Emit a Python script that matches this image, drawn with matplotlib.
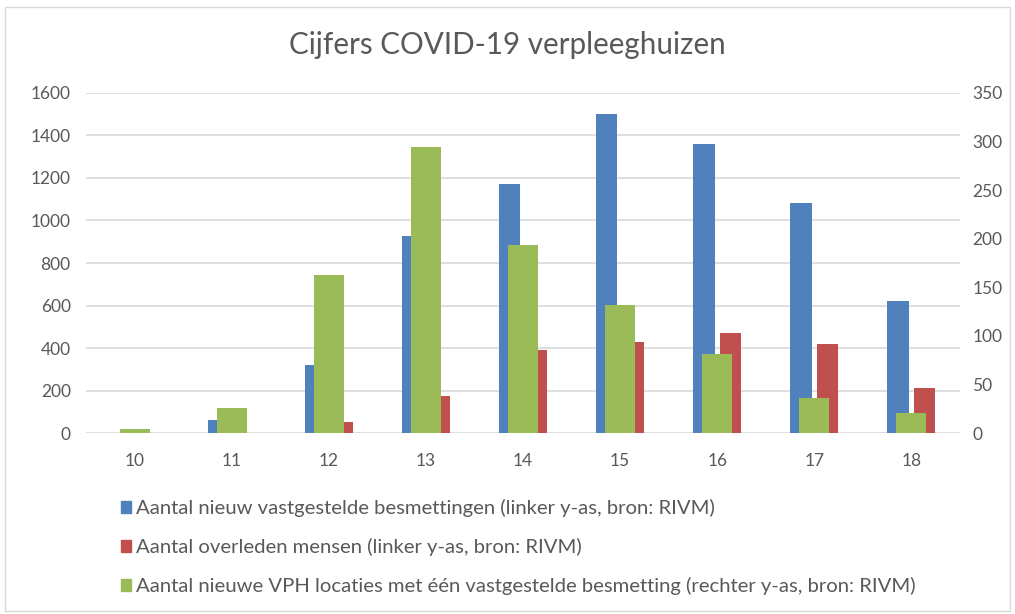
import matplotlib
matplotlib.use('Agg')
import matplotlib.pyplot as plt
from matplotlib.patches import Patch, Rectangle
import numpy as np

plt.rcParams['font.family'] = ['Lato', 'DejaVu Sans']

# weeknummers en waarden
weeks = ['10', '11', '12', '13', '14', '15', '16', '17', '18']
besmettingen = [0, 62, 320, 925, 1172, 1502, 1360, 1080, 620]
overleden = [0, 3, 52, 177, 390, 427, 470, 421, 213]
vph_locaties = [4, 26, 163, 294, 193, 132, 81, 36, 21]

left_ticks = [0, 200, 400, 600, 800, 1000, 1200, 1400, 1600]
right_ticks = [0, 50, 100, 150, 200, 250, 300, 350]

labels = [
    'Aantal nieuw vastgestelde besmettingen (linker y-as, bron: RIVM)',
    'Aantal overleden mensen (linker y-as, bron: RIVM)',
    'Aantal nieuwe VPH locaties met één vastgestelde besmetting (rechter y-as, bron: RIVM)',
]

blue = '#4F81BD'
red = '#C0504D'
green = '#9BBB59'
grey_text = '#595959'
grid_col = '#D9D9D9'

fig = plt.figure(figsize=(10.15, 6.14), dpi=100)
ax = fig.add_axes([86 / 1015, 1 - 433.3 / 614, 874 / 1015, (433.3 - 92.7) / 614])

x = np.arange(len(weeks))
w = 0.22
ax.bar(x - 0.137, besmettingen, w, color=blue, zorder=2)
ax.bar(x + 0.137, overleden, w, color=red, zorder=2)

ax.set_xlim(-0.5, len(weeks) - 0.5)
ax.set_ylim(0, 1600)
ax.set_yticks(left_ticks)
ax.set_xticks(x)
ax.set_xticklabels(weeks)
ax.yaxis.grid(True, color=grid_col, linewidth=1.2, zorder=0)
ax.set_axisbelow(True)
for s in ax.spines.values():
    s.set_visible(False)
ax.tick_params(axis='both', length=0, labelsize=12.5, labelcolor=grey_text)
ax.tick_params(axis='x', pad=14)
ax.tick_params(axis='y', pad=11)

ax2 = ax.twinx()
ax2.bar(x, vph_locaties, 0.31, color=green, zorder=3)
ax2.set_ylim(0, 350)
ax2.set_yticks(right_ticks)
for s in ax2.spines.values():
    s.set_visible(False)
ax2.tick_params(axis='y', length=0, labelsize=12.5, labelcolor=grey_text, pad=9)

fig.text(0.5, 1 - 45 / 614, 'Cijfers COVID-19 verpleeghuizen', ha='center', va='center',
         fontsize=21.3, color=grey_text)

handles = [Patch(color=blue), Patch(color=red), Patch(color=green)]
fig.legend(handles, labels, loc='upper left', bbox_to_anchor=(121 / 1015, 1 - 499 / 614),
           frameon=False, fontsize=14.6, labelcolor=grey_text, handlelength=0.5,
           handleheight=0.5, handletextpad=0.25, labelspacing=1.03, borderpad=0,
           borderaxespad=0)

# kader rond de grafiek
fig.patches.append(Rectangle((5 / 1015, 0.005), 1 - 10 / 1015, 1 - 10 / 614,
                             transform=fig.transFigure, fill=False,
                             edgecolor=grid_col, linewidth=1))

fig.savefig('out.png', dpi=100)
